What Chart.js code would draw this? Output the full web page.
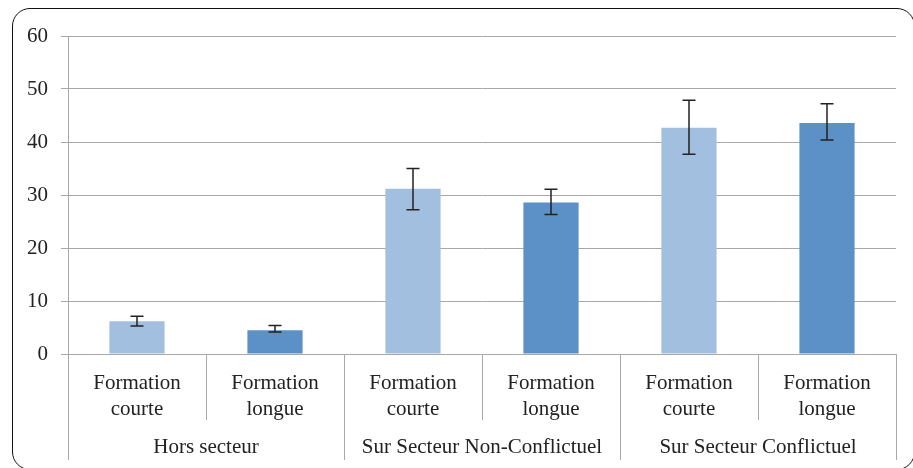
<!DOCTYPE html>
<html>
<head>
<meta charset="utf-8">
<script src="https://cdn.jsdelivr.net/npm/chart.js@4"></script>
<style>
  html, body { margin: 0; padding: 0; background: #fff; overflow: hidden; }
  #wrap { position: relative; width: 913px; height: 468px; }
  #frame {
    position: absolute; left: 12px; top: 8px; width: 903px; height: 462px;
    border: 1.5px solid #111; border-radius: 18px; box-sizing: border-box; pointer-events: none;
  }
</style>
</head>
<body>
<div id="wrap">
  <canvas id="chart" width="913" height="468"></canvas>
  <div id="frame"></div>
</div>
<script>
const categories = [
  ["Formation", "courte"], ["Formation", "longue"],
  ["Formation", "courte"], ["Formation", "longue"],
  ["Formation", "courte"], ["Formation", "longue"]
];
const groups = ["Hors secteur", "Sur Secteur Non-Conflictuel", "Sur Secteur Conflictuel"];
const values = [6.2, 4.5, 31.2, 28.6, 42.7, 43.6];
const errLow = [5.3, 4.15, 27.2, 26.3, 37.7, 40.4];
const errHigh = [7.1, 5.4, 35.0, 31.1, 47.9, 47.2];
const yTicks = [0, 10, 20, 30, 40, 50, 60];

const lightBlue = "#A3BFE0";
const darkBlue = "#5B91C6";
const gridColor = "#A8A8A8";
const fontFamily = "Liberation Serif";

// error bars drawn on top of the bars, positioned via the chart scales
const errorBars = {
  id: "errorBars",
  afterDatasetsDraw(chart) {
    const c = chart.ctx;
    const x = chart.scales.x, y = chart.scales.y;
    c.save();
    c.strokeStyle = "#222";
    c.lineWidth = 1.5;
    values.forEach((v, i) => {
      const px = x.getPixelForValue(i);
      const top = y.getPixelForValue(errHigh[i]);
      const bot = y.getPixelForValue(errLow[i]);
      c.beginPath();
      c.moveTo(px, top); c.lineTo(px, bot);
      c.moveTo(px - 6.5, top); c.lineTo(px + 6.5, top);
      c.moveTo(px - 6.5, bot); c.lineTo(px + 6.5, bot);
      c.stroke();
    });
    c.restore();
  }
};

Chart.defaults.font.family = fontFamily;

new Chart(document.getElementById("chart"), {
  type: "bar",
  data: {
    labels: categories,
    datasets: [{
      data: values,
      backgroundColor: values.map((v, i) => (i % 2 === 0 ? lightBlue : darkBlue)),
      borderWidth: 0,
      barPercentage: 0.4,
      categoryPercentage: 1.0
    }]
  },
  options: {
    responsive: false,
    animation: false,
    layout: { padding: { top: 36, right: 17, bottom: 8, left: 0 } },
    plugins: { legend: { display: false }, tooltip: { enabled: false } },
    scales: {
      y: {
        min: 0, max: 60,
        afterBuildTicks: (s) => { s.ticks = yTicks.map((v) => ({ value: v })); },
        afterFit: (s) => { s.width = 68; },
        grid: { color: gridColor, tickLength: 7, lineWidth: 1 },
        border: { display: true, color: gridColor },
        ticks: { padding: 13, color: "#222", font: { family: fontFamily, size: 21 } }
      },
      x: {
        weight: 0,
        afterFit: (s) => { s.height = 66; },
        grid: { offset: true, drawOnChartArea: false, tickLength: 66, color: gridColor },
        border: { display: true, color: gridColor },
        ticks: { padding: -49, maxRotation: 0, autoSkip: false, color: "#222",
                 font: { family: fontFamily, size: 21, lineHeight: 1.22 } }
      },
      groups: {
        type: "category",
        position: "bottom",
        weight: 1,
        labels: groups,
        offset: true,
        afterFit: (s) => { s.height = 40; },
        grid: { offset: true, drawOnChartArea: false, tickLength: 40, color: gridColor },
        border: { display: false },
        ticks: { padding: -25, maxRotation: 0, autoSkip: false, color: "#222",
                 font: { family: fontFamily, size: 21 } }
      }
    }
  },
  plugins: [errorBars]
});
</script>
</body>
</html>
